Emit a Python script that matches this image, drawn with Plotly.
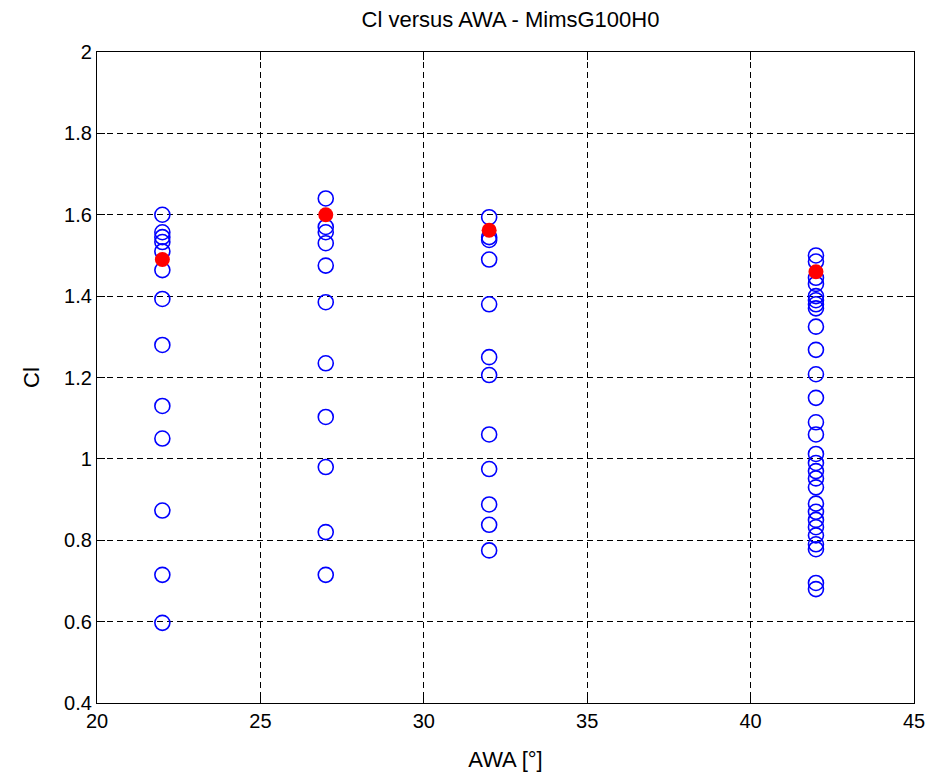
import plotly.graph_objects as go

# Blue open circles: CI values per AWA group
awa_groups = [22, 27, 32, 42]
cl_blue_22 = [1.60, 1.557, 1.545, 1.533, 1.51, 1.464, 1.393, 1.28, 1.13, 1.05, 0.873, 0.715, 0.597]
cl_blue_27 = [1.64, 1.57, 1.557, 1.53, 1.475, 1.385, 1.235, 1.103, 0.98, 0.82, 0.715]
cl_blue_32 = [1.594, 1.545, 1.538, 1.49, 1.38, 1.25, 1.206, 1.06, 0.975, 0.888, 0.838, 0.775]
cl_blue_42 = [1.50, 1.485, 1.445, 1.43, 1.40, 1.39, 1.38, 1.37, 1.325, 1.268, 1.208, 1.15,
              1.09, 1.06, 1.012, 0.99, 0.97, 0.952, 0.93, 0.89, 0.87, 0.85, 0.832, 0.812,
              0.79, 0.778, 0.695, 0.68]
# Red filled markers (mean values)
cl_red = [1.49, 1.60, 1.562, 1.46]

blue_groups = [cl_blue_22, cl_blue_27, cl_blue_32, cl_blue_42]
x_blue, y_blue = [], []
for a, g in zip(awa_groups, blue_groups):
    x_blue += [a] * len(g)
    y_blue += g

x_ticks = [20, 25, 30, 35, 40, 45]
y_ticks = [0.4, 0.6, 0.8, 1.0, 1.2, 1.4, 1.6, 1.8, 2.0]
y_ticktext = ["0.4", "0.6", "0.8", "1", "1.2", "1.4", "1.6", "1.8", "2"]

font_family = "Liberation Sans, Arial, sans-serif"

fig = go.Figure()
fig.add_trace(go.Scatter(
    x=x_blue, y=y_blue, mode="markers",
    marker=dict(symbol="circle-open", size=15, color="#0000ff", line=dict(width=1.6, color="#0000ff")),
    showlegend=False, hoverinfo="x+y"))
fig.add_trace(go.Scatter(
    x=awa_groups, y=cl_red, mode="markers",
    marker=dict(symbol="circle", size=15, color="#ff0000", line=dict(width=0)),
    showlegend=False, hoverinfo="x+y"))

axis_common = dict(
    showgrid=True, gridcolor="black", gridwidth=1.3, griddash="6px,4px",
    showline=True, linecolor="black", linewidth=1.3, mirror="ticks",
    ticks="inside", ticklen=8, tickcolor="black", tickwidth=1.3,
    zeroline=False, tickfont=dict(family=font_family, size=20, color="black"),
)

L, R = 97, 13
fig.update_layout(
    width=937, height=780,
    margin=dict(l=L, r=R, t=52, b=77),
    plot_bgcolor="white", paper_bgcolor="white",
    title=dict(text="Cl versus AWA - MimsG100H0", x=(L + 937 - R) / 2 / 937, xanchor="center",
               y=1 - 19 / 780, yanchor="middle",
               font=dict(family=font_family, size=22, color="black")),
    xaxis=dict(range=[20, 45], tickvals=x_ticks, ticktext=[str(v) for v in x_ticks],
               title=dict(text="AWA [°]", font=dict(family=font_family, size=22, color="black"), standoff=20),
               **axis_common),
    yaxis=dict(range=[0.4, 2.0], tickvals=y_ticks, ticktext=y_ticktext,
               title=dict(text="Cl", font=dict(family=font_family, size=22, color="black"), standoff=18),
               **axis_common),
)

fig.write_html("out.html")
